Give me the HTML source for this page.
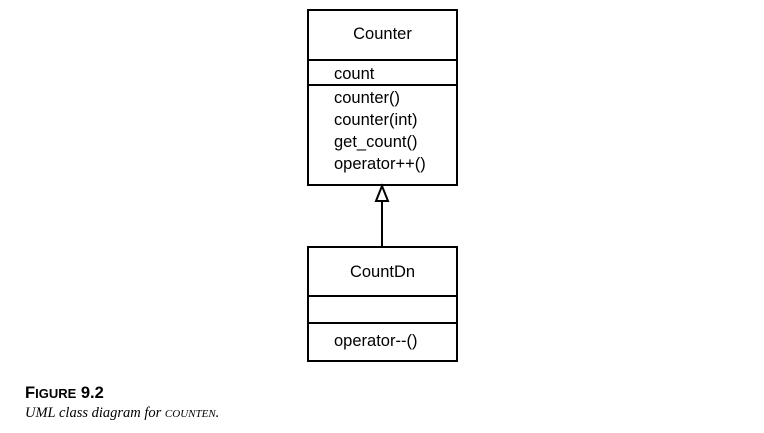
<!DOCTYPE html>
<html><head><style>
body{margin:0;background:#fff;width:764px;height:433px;overflow:hidden;}
</style></head><body>
<svg width="764" height="433" xmlns="http://www.w3.org/2000/svg" style="position:absolute;left:0;top:0">
<g fill="none" stroke="#000" stroke-width="2">
<rect x="308" y="10" width="149" height="175"/>
<line x1="308" y1="60" x2="457" y2="60"/>
<line x1="308" y1="85" x2="457" y2="85"/>
<rect x="308" y="247" width="149" height="114"/>
<line x1="308" y1="296" x2="457" y2="296"/>
<line x1="308" y1="323" x2="457" y2="323"/>
<line x1="382" y1="200" x2="382" y2="247"/>
<polygon points="382,186 376,201 388,201" fill="#fff"/>
</g>
<g font-family="Liberation Sans, sans-serif" font-size="16.5" fill="#000">
<text x="382.5" y="39" text-anchor="middle">Counter</text>
<text x="334" y="79">count</text>
<text x="334" y="103">counter()</text>
<text x="334" y="125">counter(int)</text>
<text x="334" y="147">get_count()</text>
<text x="334" y="169">operator++()</text>
<text x="382.5" y="277" text-anchor="middle">CountDn</text>
<text x="334" y="346">operator--()</text>
</g>
<text x="25" y="398" font-family="Liberation Sans, sans-serif" font-weight="bold" font-size="16.5">F<tspan font-size="13">IGURE</tspan> 9.2</text>
<text x="25" y="417" font-family="Liberation Serif, serif" font-style="italic" font-size="14.5">UML class diagram for <tspan font-size="11">COUNTEN</tspan>.</text>
</svg>
</body></html>
